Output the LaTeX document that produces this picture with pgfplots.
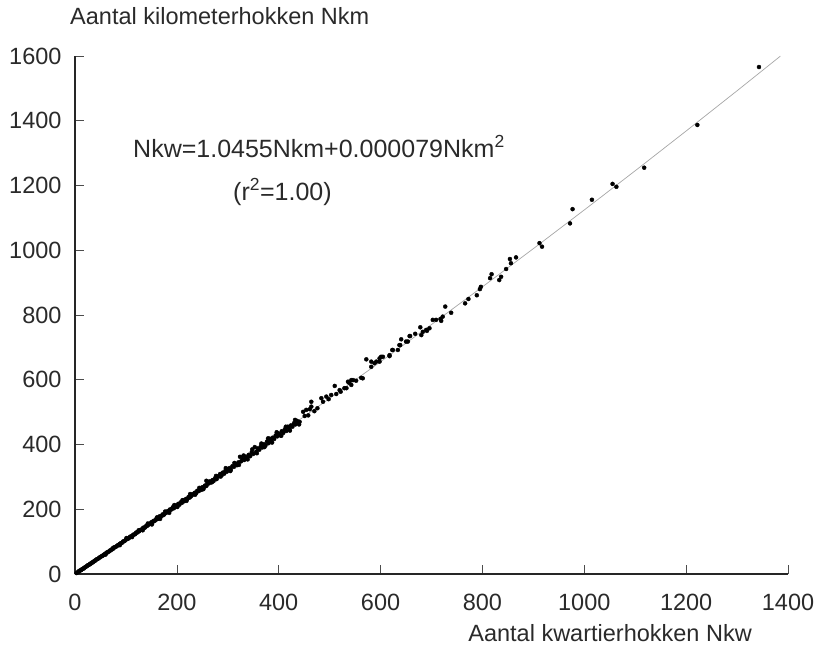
\documentclass[border=0pt]{standalone}
\usepackage{pgfplots}
\pgfplotsset{compat=1.18}
\usepackage{fontspec}
\setmainfont{Liberation Sans}
\definecolor{txt}{HTML}{2A2A2A}
\begin{document}
\begin{tikzpicture}
\useasboundingbox (-75pt,-75pt) rectangle (746pt,574pt);
\begin{axis}[
  at={(0pt,0pt)}, anchor=south west,
  scale only axis, width=713pt, height=518pt,
  xmin=0, xmax=1400, ymin=0, ymax=1600,
  axis lines=left,
  axis line style={-, line width=2.4pt, color=black!85},
  every outer x axis line/.append style={-},
  every outer y axis line/.append style={-},
  xtick={0,200,...,1400}, ytick={0,200,...,1600},
  tick align=inside, major tick length=9pt,
  tick style={line width=0.7pt, color=black!70},
  scaled ticks=false,
  /pgf/number format/1000 sep={},
  /pgf/number format/assume math mode=true,
  ticklabel style={font=\fontsize{23.5}{27}\selectfont, text=txt},
  yticklabel style={xshift=-10pt},
  xticklabel style={yshift=-17pt},
  clip=false,
]
\addplot[color=black!35, line width=0.7pt] coordinates {
(0,0) (100,105.34) (200,212.26) (300,320.76) (400,430.84) (500,542.5)
(600,655.74) (700,770.56) (800,886.96) (900,1004.94) (1000,1124.5)
(1100,1245.64) (1200,1368.36) (1300,1492.66) (1385,1599.6)};
\addplot[only marks, mark=*, mark size=2pt, color=black] table {
x y
3 3
5 5
7 8
8 8
10 11
12 12
13 14
15 16
17 17
18 19
20 21
22 23
24 25
25 27
27 28
29 30
30 32
32 33
34 36
35 36
37 39
39 41
40 42
42 45
44 46
46 48
48 51
50 52
52 55
54 56
56 59
58 61
60 63
62 66
64 67
66 69
68 72
70 73
72 76
74 77
76 80
78 83
80 84
82 86
84 89
86 90
88 93
90 95
92 96
94 100
96 101
98 103
100 106
102 108
104 109
106 111
108 115
110 116
112 117
114 121
116 122
118 123
120 128
122 128
124 131
126 132
128 136
130 137
132 138
134 143
136 143
138 144
140 149
142 149
144 152
146 155
148 155
150 160
152 159
154 164
156 164
158 166
160 171
162 170
164 172
166 178
168 176
170 180
172 184
174 182
176 186
178 190
180 190
182 194
184 192
186 199
188 198
190 201
192 206
194 203
196 209
198 208
200 212
203 217
205 214
208 222
210 220
213 228
215 225
218 232
220 231
223 238
225 236
228 240
230 246
233 246
235 251
238 250
240 257
243 256
245 262
248 260
250 268
253 267
255 273
258 272
258 288
260 279
263 280
265 286
268 283
270 290
272 287
275 296
278 293
280 301
283 302
285 309
288 305
290 313
293 310
295 318
298 316
300 323
303 327
306 322
309 333
312 331
315 340
318 336
321 345
324 362
326 348
329 355
332 352
335 362
338 358
341 368
344 364
347 376
350 371
353 392
356 378
359 388
362 384
365 395
368 391
371 401
374 397
377 409
380 404
382 418
385 411
388 421
391 417
394 428
397 425
400 434
403 428
406 441
409 436
412 447
415 442
418 455
421 448
424 459
427 455
430 466
433 462
436 473
438 467
441 470
448 501
454 507
458 490
464 517
464 532
470 503
476 512
483.7 543
487 532
493.5 548
498 540
503 553
510 581
513 556
519.6 568
521.6 563
529 574
533 574
536 594
538 591
542.5 584
542.5 599
546 599
552 597
562 606
565 604.5
572 663
581.7 640
581.7 656
588 651
591.6 656
598 666
598 656
601 671
604.6 671
617.6 673
617.6 676
623 692
624 692
634 692
637 707
638.6 707
640.5 725
650 718
653.6 718
657 735
658 735
668 742
678 762
680 738
683 748
689.6 754
691 751
696 759
702.5 785
709 785
717.6 788
719 782
722 795
727 826
738.6 807
766 836
772.5 849.5
789 861
795 880
797 887
815 914
818 926
833 908
836.6 918
846.5 942
854 973
856 960
866 978
912 1022
917 1011
972 1083
977 1127
1015 1156
1055.5 1205
1063 1196
1117.6 1255
1222 1387
1343 1566
};
\addplot[only marks, mark=*, mark size=2pt, color=black] table {
x y
60 60
75 81
88 89
101 111
112 114
125 135
133 135
143 156
151 153
161 175
167 170
177 193
185 189
195 213
201 207
211 228
219 226
226 247
236 245
244 266
252 262
262 285
269 284
277 303
286 301
296 327
305 318
313 343
322 337
331 366
339 354
348 385
357 373
366 403
372 392
379 419
387 406
396 438
405 427
414 455
422 443
432 476
440 462
451 488
461 509
};
\end{axis}
\node[anchor=base west, text=txt, font=\fontsize{23.5}{27}\selectfont, inner sep=0pt] at (-5pt,549pt) {Aantal kilometerhokken Nkm};
\node[anchor=base east, text=txt, font=\fontsize{23.5}{27}\selectfont, inner sep=0pt] at (677pt,-67pt) {Aantal kwartierhokken Nkw};
\node[anchor=base west, text=txt, font=\fontsize{25}{29}\selectfont, inner sep=0pt] at (58pt,417pt) {Nkw=1.0455Nkm+0.000079Nkm\textsuperscript{2}};
\node[anchor=base west, text=txt, font=\fontsize{25}{29}\selectfont, inner sep=0pt] at (158pt,374pt) {(r\textsuperscript{2}=1.00)};
\end{tikzpicture}
\end{document}
